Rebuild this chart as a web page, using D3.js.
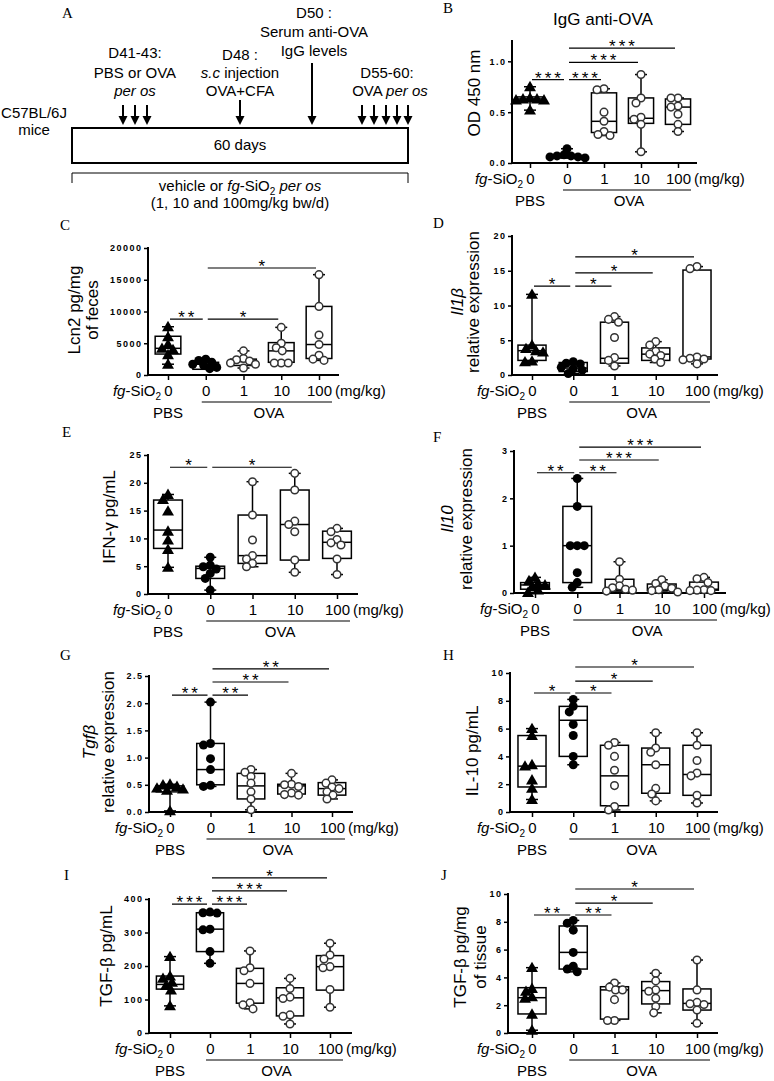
<!DOCTYPE html>
<html>
<head>
<meta charset="utf-8">
<script src="https://cdn.jsdelivr.net/npm/d3@7"></script>
<style>
body { margin: 0; background: #fff; }
svg text { font-family: "Liberation Sans", Arial, sans-serif; fill: #000; }
</style>
</head>
<body>
<svg id="fig" width="774" height="1081"></svg>
<script>
// x categories, shared by all panels B-J
var groups = ["0", "0", "1", "10", "100"];
var groupKind = ["pbs", "ova", "sio2", "sio2", "sio2"];

// B - IgG anti-OVA (OD 450 nm)
var iggPoints = [
  [0.75, 0.64, 0.63, 0.63, 0.62, 0.62, 0.52],
  [0.14, 0.08, 0.07, 0.07, 0.06, 0.06, 0.05],
  [0.73, 0.72, 0.50, 0.41, 0.31, 0.28, 0.27],
  [0.87, 0.64, 0.59, 0.45, 0.43, 0.38, 0.11],
  [0.64, 0.64, 0.56, 0.55, 0.48, 0.38, 0.31]
];
var iggBoxes = [[0.61, 0.63, 0.65], [0.05, 0.07, 0.08], [0.30, 0.41, 0.69], [0.39, 0.44, 0.64], [0.38, 0.55, 0.63]];
var iggSig = [[0, 1, 0.82, "***"], [1, 2, 0.82, "***"], [1, 3, 0.99, "***"], [1, 4, 1.13, "***"]];

// C - Lcn2 pg/mg of feces
var lcn2Points = [
  [7600, 6000, 4800, 4200, 4000, 3200, 1700],
  [2500, 2300, 2000, 1700, 1500, 1200, 1000],
  [3800, 2600, 2400, 2200, 1900, 1700, 1100],
  [7500, 5000, 4300, 3800, 1900, 1900, 1900],
  [15800, 10800, 6300, 4800, 3100, 2500, 2300]
];
var lcn2Boxes = [[3300, 4200, 6100], [900, 1700, 2000], [1500, 2100, 2500], [2000, 3800, 5100], [2600, 4800, 10800]];
var lcn2Sig = [[0, 1, 8800, "**"], [1, 3, 8800, "*"], [1, 4, 16850, "*"]];

// D - Il1b relative expression
var il1bPoints = [
  [11.6, 4.3, 3.8, 3.5, 3.3, 2.0, 1.9],
  [1.9, 1.7, 1.6, 1.1, 0.9, 0.7, 0.2],
  [8.4, 8.0, 7.6, 5.4, 2.5, 2.1, 1.3],
  [4.8, 4.3, 3.4, 3.0, 2.8, 2.3, 1.8],
  [15.6, 15.3, 2.6, 2.4, 2.3, 2.2, 1.6]
];
var il1bBoxes = [[2.1, 3.5, 4.3], [0.5, 1.0, 1.8], [1.7, 2.4, 7.6], [2.1, 3.0, 3.9], [2.3, 2.6, 15.1]];
var il1bSig = [[0, 1, 12.8, "*"], [1, 2, 12.8, "*"], [1, 3, 14.7, "*"], [1, 4, 17.0, "*"]];

// E - IFN-g pg/mL
var ifngPoints = [
  [17.9, 17.0, 14.9, 11.3, 9.7, 8.0, 4.8],
  [6.6, 5.2, 4.9, 4.5, 3.7, 2.8, 0.7],
  [20.2, 14.2, 9.7, 6.9, 6.3, 5.5, 4.9],
  [21.7, 18.7, 13.1, 12.5, 11.2, 6.1, 3.9],
  [11.8, 11.2, 9.8, 9.2, 8.8, 6.3, 3.5]
];
var ifngBoxes = [[8.2, 11.5, 16.9], [2.8, 4.6, 5.0], [5.5, 6.9, 14.2], [6.1, 12.5, 18.7], [6.4, 9.3, 11.3]];
var ifngSig = [[0, 1, 22.8, "*"], [1, 3, 22.8, "*"]];

// F - Il10 relative expression
var il10Points = [
  [0.33, 0.26, 0.20, 0.17, 0.13, 0.06, 0.01],
  [2.42, 1.83, 1.0, 1.0, 1.0, 0.43, 0.22, 0.12],
  [0.66, 0.29, 0.15, 0.11, 0.08, 0.06, 0.04],
  [0.28, 0.20, 0.15, 0.10, 0.07, 0.05, 0.02],
  [0.33, 0.30, 0.22, 0.07, 0.06, 0.05, 0.05]
];
var il10Boxes = [[0.08, 0.17, 0.22], [0.22, 1.0, 1.83], [0.06, 0.08, 0.29], [0.05, 0.08, 0.19], [0.06, 0.08, 0.23]];
var il10Sig = [[0, 1, 2.54, "**"], [1, 2, 2.54, "**"], [1, 3, 2.81, "***"], [1, 4, 3.08, "***"]];

// G - Tgfb relative expression
var tgfbPoints = [
  [0.51, 0.50, 0.47, 0.44, 0.42, 0.40, 0.02],
  [2.02, 1.26, 1.23, 0.98, 0.78, 0.49, 0.47],
  [0.78, 0.73, 0.65, 0.53, 0.37, 0.24, 0.04],
  [0.71, 0.51, 0.50, 0.47, 0.35, 0.32, 0.31],
  [0.59, 0.53, 0.46, 0.43, 0.37, 0.31, 0.24]
];
var tgfbBoxes = [[0.37, 0.43, 0.48], [0.50, 0.78, 1.26], [0.24, 0.48, 0.71], [0.33, 0.48, 0.51], [0.31, 0.43, 0.54]];
var tgfbSig = [[0, 1, 2.15, "**"], [1, 2, 2.15, "**"], [1, 3, 2.39, "**"], [1, 4, 2.63, "**"]];

// H - IL-10 pg/mL
var il10pPoints = [
  [6.0, 5.5, 3.4, 3.3, 2.3, 1.7, 0.9],
  [8.1, 7.6, 7.2, 6.3, 5.5, 4.0, 3.4],
  [5.0, 4.8, 4.0, 3.0, 1.9, 0.4, 0.15],
  [5.7, 4.6, 4.3, 3.4, 1.7, 1.3, 0.8],
  [5.7, 4.8, 3.7, 2.8, 2.6, 1.2, 0.65]
];
var il10pBoxes = [[1.8, 3.3, 5.5], [4.0, 6.6, 7.6], [0.45, 2.6, 4.8], [1.35, 3.4, 4.6], [1.2, 2.7, 4.8]];
var il10pSig = [[0, 1, 8.56, "*"], [1, 2, 8.56, "*"], [1, 3, 9.42, "*"], [1, 4, 10.43, "*"]];

// I - TGF-b pg/mL
var tgfPlasmaPoints = [
  [228, 170, 163, 151, 142, 128, 81],
  [361, 359, 358, 310, 308, 243, 208],
  [245, 195, 186, 148, 90, 84, 72],
  [163, 133, 107, 103, 54, 50, 27],
  [268, 233, 221, 198, 195, 130, 77]
];
var tgfPlasmaBoxes = [[131, 145, 170], [243, 310, 359], [89, 148, 193], [51, 105, 135], [128, 198, 231]];
var tgfPlasmaSig = [[0, 1, 385, "***"], [1, 2, 385, "***"], [1, 3, 424, "***"], [1, 4, 463, "*"]];

// J - TGF-b pg/mg of tissue
var tgfTissuePoints = [
  [4.7, 3.2, 3.0, 2.6, 2.5, 1.35, 0.2],
  [8.1, 7.9, 7.4, 5.8, 4.8, 4.6, 4.4],
  [3.6, 3.3, 3.1, 3.1, 2.4, 0.9, 0.9],
  [4.3, 3.75, 3.1, 3.0, 2.5, 1.9, 1.45],
  [5.25, 3.1, 2.2, 2.1, 2.05, 1.65, 0.7]
];
var tgfTissueBoxes = [[1.37, 2.54, 3.26], [4.6, 5.8, 7.7], [1.0, 3.1, 3.33], [2.09, 3.05, 3.7], [1.65, 2.13, 3.17]];
var tgfTissueSig = [[0, 1, 8.49, "**"], [1, 2, 8.49, "**"], [1, 3, 9.35, "*"], [1, 4, 10.36, "*"]];

var svg = d3.select("#fig");

function letter(x, y, t) {
  svg.append("text").attr("x", x).attr("y", y).text(t)
    .style("font-family", "'Liberation Serif', 'Times New Roman', serif").attr("font-size", 15);
}

// text made of [string, italic] pieces
function rich(g, x, y, parts, size, anchor) {
  var t = g.append("text").attr("x", x).attr("y", y).attr("font-size", size).attr("text-anchor", anchor || "middle");
  parts.forEach(function (p) {
    var s = t.append("tspan").text(p[0]);
    if (p[1]) s.attr("font-style", "italic");
  });
  return t;
}

// ---------- panel A: timeline ----------
(function () {
  var g = svg.append("g");
  letter(62, 18, "A");
  var fs = 15;
  rich(g, 135, 58, [["D41-43:"]], fs);
  rich(g, 135, 78, [["PBS or OVA"]], fs);
  rich(g, 135, 96, [["per os", true]], fs);
  rich(g, 240, 60, [["D48 :"]], fs);
  rich(g, 240, 78, [["s.c", true], [" injection"]], fs);
  rich(g, 240, 96, [["OVA+CFA"]], fs);
  rich(g, 314, 18, [["D50 :"]], fs);
  rich(g, 314, 37, [["Serum anti-OVA"]], fs);
  rich(g, 314, 56, [["IgG levels"]], fs);
  rich(g, 387, 78, [["D55-60:"]], fs);
  rich(g, 390, 96, [["OVA "], ["per os", true]], fs);
  rich(g, 34, 118, [["C57BL/6J"]], fs);
  rich(g, 34, 135, [["mice"]], fs);

  g.append("rect").attr("x", 72).attr("y", 128).attr("width", 336).attr("height", 35)
    .attr("fill", "none").attr("stroke", "#000").attr("stroke-width", 2);
  rich(g, 240, 150, [["60 days"]], fs);

  var arrows = [[123, 105], [135, 105], [147, 105], [240, 100], [312, 63],
    [362, 105], [374, 105], [386, 105], [397, 105], [408, 105]];
  var tip = 125;
  arrows.forEach(function (a) {
    g.append("line").attr("x1", a[0]).attr("x2", a[0]).attr("y1", a[1]).attr("y2", tip - 6)
      .attr("stroke", "#000").attr("stroke-width", 2);
    g.append("path").attr("d", "M" + (a[0] - 4.5) + "," + (tip - 9) + "L" + (a[0] + 4.5) + "," + (tip - 9) + "L" + a[0] + "," + tip + "Z")
      .attr("fill", "#000");
  });

  g.append("path").attr("d", "M72,183V173H408V183").attr("fill", "none").attr("stroke", "#000").attr("stroke-width", 1);
  var t = rich(g, 240, 191, [["vehicle or "], ["fg", true], ["-SiO"]], fs);
  t.append("tspan").text("2").attr("font-size", 10).attr("dy", 4);
  t.append("tspan").text(" per os").attr("font-style", "italic").attr("dy", -4);
  rich(g, 240, 208, [["(1, 10 and 100mg/kg bw/d)"]], fs);
})();

// ---------- panels B-J ----------
var panels = [
  { letter: ["B", 443, 13], axisX: 512, xEnd: 697, cat: [530, 678], bottom: 163, top: 41, domain: [0, 1.2], ticks: [0, 0.5, 1.0], fmt: ".1f",
    ylab: [[475, [["OD 450 nm"]]]], ylabY: 93, title: "IgG anti-OVA", points: iggPoints, boxes: iggBoxes, sig: iggSig },
  { letter: ["C", 60, 230], axisX: 148, xEnd: 339, cat: [168, 319], bottom: 375, top: 248, domain: [0, 20000], ticks: [0, 5000, 10000, 15000, 20000], fmt: "d",
    ylab: [[75, [["Lcn2 pg/mg"]]], [93, [["of feces"]]]], ylabY: 310, points: lcn2Points, boxes: lcn2Boxes, sig: lcn2Sig },
  { letter: ["D", 433, 228], axisX: 512, xEnd: 718, cat: [532, 697], bottom: 375, top: 236, domain: [0, 20], ticks: [0, 5, 10, 15, 20], fmt: "d",
    ylab: [[458, [["Il1β", true]]], [474, [["relative expression"]]]], ylabY: 302, points: il1bPoints, boxes: il1bBoxes, sig: il1bSig },
  { letter: ["E", 62, 437], axisX: 148, xEnd: 358, cat: [168, 337], bottom: 594, top: 455, domain: [0, 25], ticks: [0, 5, 10, 15, 20, 25], fmt: "d",
    ylab: [[110, [["IFN-γ pg/mL"]]]], ylabY: 517, points: ifngPoints, boxes: ifngBoxes, sig: ifngSig },
  { letter: ["F", 433, 442], axisX: 514, xEnd: 726, cat: [535, 704], bottom: 593, top: 451, domain: [0, 3], ticks: [0, 1, 2, 3], fmt: "d",
    ylab: [[448, [["Il10", true]]], [467, [["relative expression"]]]], ylabY: 519, points: il10Points, boxes: il10Boxes, sig: il10Sig },
  { letter: ["G", 60, 660], axisX: 149, xEnd: 353, cat: [170, 332], bottom: 812, top: 676, domain: [0, 2.5], ticks: [0, 0.5, 1, 1.5, 2, 2.5], fmt: ".1f",
    ylab: [[90, [["Tgfβ", true]]], [109, [["relative expression"]]]], ylabY: 742, points: tgfbPoints, boxes: tgfbBoxes, sig: tgfbSig },
  { letter: ["H", 443, 660], axisX: 510, xEnd: 718, cat: [532, 697], bottom: 812, top: 673, domain: [0, 10], ticks: [0, 2, 4, 6, 8, 10], fmt: "d",
    ylab: [[473, [["IL-10 pg/mL"]]]], ylabY: 751, points: il10pPoints, boxes: il10pBoxes, sig: il10pSig },
  { letter: ["I", 64, 880], axisX: 149, xEnd: 352, cat: [170, 330], bottom: 1033, top: 899, domain: [0, 400], ticks: [0, 100, 200, 300, 400], fmt: "d",
    ylab: [[107, [["TGF-β pg/mL"]]]], ylabY: 956, points: tgfPlasmaPoints, boxes: tgfPlasmaBoxes, sig: tgfPlasmaSig },
  { letter: ["J", 441, 880], axisX: 508, xEnd: 718, cat: [532, 697], bottom: 1033, top: 894, domain: [0, 10], ticks: [0, 2, 4, 6, 8, 10], fmt: "d",
    ylab: [[461, [["TGF-β pg/mg"]]], [481, [["of tissue"]]]], ylabY: 957, points: tgfTissuePoints, boxes: tgfTissueBoxes, sig: tgfTissueSig }
];

// simple deterministic beeswarm: horizontal offsets, markers may overlap a little
function swarm(ys, minDist) {
  var placed = [];
  return ys.map(function (y) {
    var k = 0, dx = 0, step = 1;
    while (k < 200) {
      dx = k === 0 ? 0 : (k % 2 ? -1 : 1) * Math.ceil(k / 2) * step;
      var free = placed.every(function (p) {
        var a = p[0] - dx, b = p[1] - y;
        return a * a + b * b >= minDist * minDist;
      });
      if (free) break;
      k++;
    }
    placed.push([dx, y]);
    return dx;
  });
}

var triangle = d3.symbol().type(d3.symbolTriangle).size(62);

function drawPanel(p) {
  var g = svg.append("g");
  letter(p.letter[1], p.letter[2], p.letter[0]);

  var y = d3.scaleLinear().domain(p.domain).range([p.bottom, p.top]);
  var x = d3.scalePoint().domain(d3.range(groups.length)).range(p.cat);
  var step = x.step();
  var bw = step * 0.68;

  // y axis
  var ya = g.append("g").attr("transform", "translate(" + p.axisX + ",0)")
    .call(d3.axisLeft(y).tickValues(p.ticks).tickFormat(d3.format(p.fmt)).tickSize(4).tickSizeOuter(0).tickPadding(3));
  ya.select(".domain").remove();
  ya.selectAll(".tick line").attr("stroke-width", 1.5);
  ya.selectAll(".tick text").attr("font-size", 9).attr("font-weight", "bold")
    .attr("letter-spacing", "1.5px").attr("dx", "1.5px").style("font-family", "'Liberation Sans', Arial, sans-serif");
  g.append("line").attr("x1", p.axisX).attr("x2", p.axisX).attr("y1", p.bottom + 1).attr("y2", p.top - 1)
    .attr("stroke", "#000").attr("stroke-width", 2);

  // x axis
  var xa = g.append("g").attr("transform", "translate(0," + p.bottom + ")")
    .call(d3.axisBottom(x).tickSize(5).tickSizeOuter(0).tickPadding(5.5).tickFormat(function (i) { return groups[i]; }));
  xa.select(".domain").remove();
  xa.selectAll(".tick line").attr("stroke-width", 1.5);
  xa.selectAll(".tick text").attr("font-size", 15).style("font-family", "'Liberation Sans', Arial, sans-serif");
  g.append("line").attr("x1", p.axisX - 1).attr("x2", p.xEnd).attr("y1", p.bottom).attr("y2", p.bottom)
    .attr("stroke", "#000").attr("stroke-width", 2);

  var lab = p.bottom + 21;
  var fg = rich(g, x(0) - 7, lab, [["fg", true], ["-SiO"]], 15, "end");
  fg.append("tspan").text("2").attr("font-size", 10).attr("dy", 4);
  rich(g, x(4) + 16, lab, [["(mg/kg)"]], 15, "start");
  var u1 = x(1) - 4, u2 = x(4) + 13;
  g.append("line").attr("x1", u1).attr("x2", u2).attr("y1", p.bottom + 27).attr("y2", p.bottom + 27)
    .attr("stroke", "#000").attr("stroke-width", 1.2);
  rich(g, x(0), p.bottom + 43, [["PBS"]], 15);
  rich(g, (u1 + u2) / 2 + 2, p.bottom + 43, [["OVA"]], 15);

  // y label
  p.ylab.forEach(function (l) {
    var t = g.append("text").attr("transform", "translate(" + (l[0] + 5) + "," + p.ylabY + ") rotate(-90)")
      .attr("text-anchor", "middle").attr("font-size", 17);
    l[1].forEach(function (part) {
      var s = t.append("tspan").text(part[0]);
      if (part[1]) s.attr("font-style", "italic");
    });
  });
  if (p.title) rich(g, 603, 25, [[p.title]], 17);

  // boxes with min-max whiskers
  p.boxes.forEach(function (b, i) {
    var cx = x(i);
    var ext = d3.extent(p.points[i]);
    var bg = g.append("g").attr("stroke", "#000").attr("fill", "none").attr("stroke-width", 1.5);
    bg.append("line").attr("x1", cx).attr("x2", cx).attr("y1", y(b[2])).attr("y2", y(ext[1]));
    bg.append("line").attr("x1", cx).attr("x2", cx).attr("y1", y(b[0])).attr("y2", y(ext[0]));
    [ext[0], ext[1]].forEach(function (v) {
      bg.append("line").attr("x1", cx - 6).attr("x2", cx + 6).attr("y1", y(v)).attr("y2", y(v));
    });
    bg.append("rect").attr("x", cx - bw / 2).attr("y", y(b[2])).attr("width", bw).attr("height", y(b[0]) - y(b[2]))
      .attr("fill", "#fff");
    bg.append("line").attr("x1", cx - bw / 2).attr("x2", cx + bw / 2).attr("y1", y(b[1])).attr("y2", y(b[1]));
  });

  // individual animals
  p.points.forEach(function (vals, i) {
    var ys = vals.map(function (v) { return y(v); });
    var offs = swarm(ys, 6.5);
    var kind = groupKind[i];
    ys.forEach(function (py, j) {
      var px = x(i) + offs[j];
      if (kind === "pbs") {
        g.append("path").attr("d", triangle).attr("transform", "translate(" + px + "," + (py + 1) + ")").attr("fill", "#000");
      } else if (kind === "ova") {
        g.append("circle").attr("cx", px).attr("cy", py).attr("r", 4.5).attr("fill", "#000");
      } else {
        g.append("circle").attr("cx", px).attr("cy", py).attr("r", 3.8).attr("fill", "#fff")
          .attr("stroke", "#333").attr("stroke-width", 1.5);
      }
    });
  });

  // significance bars
  p.sig.forEach(function (s) {
    var x1 = x(s[0]) + 2, x2 = x(s[1]) - 3, yy = y(s[2]);
    g.append("line").attr("x1", x1).attr("x2", x2).attr("y1", yy).attr("y2", yy).attr("stroke", "#000").attr("stroke-width", 1.2);
    g.append("text").attr("x", (x1 + x2) / 2).attr("y", yy + 4).attr("dx", "1.5px").attr("text-anchor", "middle")
      .attr("font-size", 17).attr("letter-spacing", "3px").text(s[3]);
  });
}

panels.forEach(drawPanel);
</script>
</body>
</html>
